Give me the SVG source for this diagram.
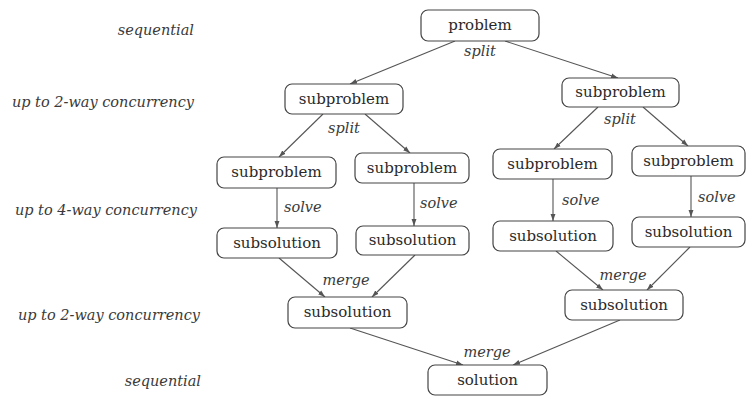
<svg xmlns="http://www.w3.org/2000/svg" width="746" height="397" viewBox="0 0 746 397">
<style>
.box{fill:#fff;stroke:#444;stroke-width:1.2}
.nt{font-family:"DejaVu Serif","Liberation Serif",serif;font-size:15px;fill:#2a2a2a;text-anchor:middle}
.lb{font-family:"DejaVu Serif","Liberation Serif",serif;font-style:italic;font-size:14.5px;fill:#3a3a3a}
.side{font-family:"DejaVu Serif","Liberation Serif",serif;font-style:italic;font-size:14.5px;fill:#3a3a3a;text-anchor:end}
.e{stroke:#555;stroke-width:1.1;fill:none;marker-end:url(#ah)}
</style>
<defs>
<marker id="ah" viewBox="0 0 10 10" refX="10" refY="5" markerWidth="7" markerHeight="7" orient="auto" markerUnits="userSpaceOnUse">
<path d="M0,1.5 L10,5 L0,8.5 z" fill="#555"/>
</marker>
</defs>
<rect width="746" height="397" fill="#fff"/>
<g id="side-labels">
<text class="side" x="194" y="35">sequential</text>
<text class="side" x="194" y="107">up to 2-way concurrency</text>
<text class="side" x="197" y="215">up to 4-way concurrency</text>
<text class="side" x="200" y="320">up to 2-way concurrency</text>
<text class="side" x="201" y="386">sequential</text>
</g>
<g id="connectors">
<line class="e" x1="455" y1="41" x2="350" y2="84"/>
<line class="e" x1="505" y1="41" x2="618" y2="78"/>
<line class="e" x1="323" y1="114" x2="279" y2="157"/>
<line class="e" x1="365" y1="114" x2="410" y2="153"/>
<line class="e" x1="598" y1="107" x2="554" y2="149"/>
<line class="e" x1="643" y1="107" x2="688" y2="146"/>
<line class="e" x1="277" y1="188" x2="277" y2="228"/>
<line class="e" x1="414" y1="183" x2="414" y2="226"/>
<line class="e" x1="553" y1="179" x2="553" y2="221"/>
<line class="e" x1="691" y1="176" x2="691" y2="217"/>
<line class="e" x1="279" y1="258" x2="325" y2="297"/>
<line class="e" x1="415" y1="255" x2="372" y2="297"/>
<line class="e" x1="556" y1="251" x2="603" y2="290"/>
<line class="e" x1="690" y1="247" x2="647" y2="290"/>
<line class="e" x1="350" y1="328" x2="463" y2="365"/>
<line class="e" x1="620" y1="320" x2="513" y2="365"/>
<text class="lb" x="480" y="56" text-anchor="middle">split</text>
<text class="lb" x="344" y="133" text-anchor="middle">split</text>
<text class="lb" x="620" y="124" text-anchor="middle">split</text>
<text class="lb" x="284" y="212">solve</text>
<text class="lb" x="420" y="208">solve</text>
<text class="lb" x="562" y="205">solve</text>
<text class="lb" x="698" y="202">solve</text>
<text class="lb" x="346" y="285" text-anchor="middle">merge</text>
<text class="lb" x="623" y="280" text-anchor="middle">merge</text>
<text class="lb" x="487" y="357" text-anchor="middle">merge</text>
</g>
<g id="problem"><rect class="box" x="421" y="10" width="118" height="31" rx="7"/><text class="nt" x="480" y="30">problem</text></g>
<g id="subproblem-a"><rect class="box" x="285" y="84" width="118" height="30" rx="7"/><text class="nt" x="344" y="104">subproblem</text></g>
<g id="subproblem-b"><rect class="box" x="562" y="78" width="117" height="29" rx="7"/><text class="nt" x="620.5" y="97">subproblem</text></g>
<g id="subproblem-1"><rect class="box" x="217" y="157" width="119" height="31" rx="7"/><text class="nt" x="276.5" y="177">subproblem</text></g>
<g id="subproblem-2"><rect class="box" x="355" y="153" width="114" height="30" rx="7"/><text class="nt" x="412" y="173">subproblem</text></g>
<g id="subproblem-3"><rect class="box" x="493" y="149" width="119" height="30" rx="7"/><text class="nt" x="552.5" y="169">subproblem</text></g>
<g id="subproblem-4"><rect class="box" x="632" y="146" width="113" height="30" rx="7"/><text class="nt" x="688.5" y="166">subproblem</text></g>
<g id="subsolution-1"><rect class="box" x="217" y="228" width="120" height="30" rx="7"/><text class="nt" x="277" y="248">subsolution</text></g>
<g id="subsolution-2"><rect class="box" x="356" y="226" width="113" height="29" rx="7"/><text class="nt" x="412.5" y="245">subsolution</text></g>
<g id="subsolution-3"><rect class="box" x="493" y="221" width="120" height="30" rx="7"/><text class="nt" x="553" y="241">subsolution</text></g>
<g id="subsolution-4"><rect class="box" x="632" y="217" width="113" height="30" rx="7"/><text class="nt" x="688.5" y="237">subsolution</text></g>
<g id="subsolution-m1"><rect class="box" x="288" y="297" width="119" height="31" rx="7"/><text class="nt" x="347.5" y="317">subsolution</text></g>
<g id="subsolution-m2"><rect class="box" x="565" y="290" width="118" height="30" rx="7"/><text class="nt" x="624" y="310">subsolution</text></g>
<g id="solution"><rect class="box" x="428" y="365" width="119" height="30" rx="7"/><text class="nt" x="487.5" y="385">solution</text></g>
</svg>
